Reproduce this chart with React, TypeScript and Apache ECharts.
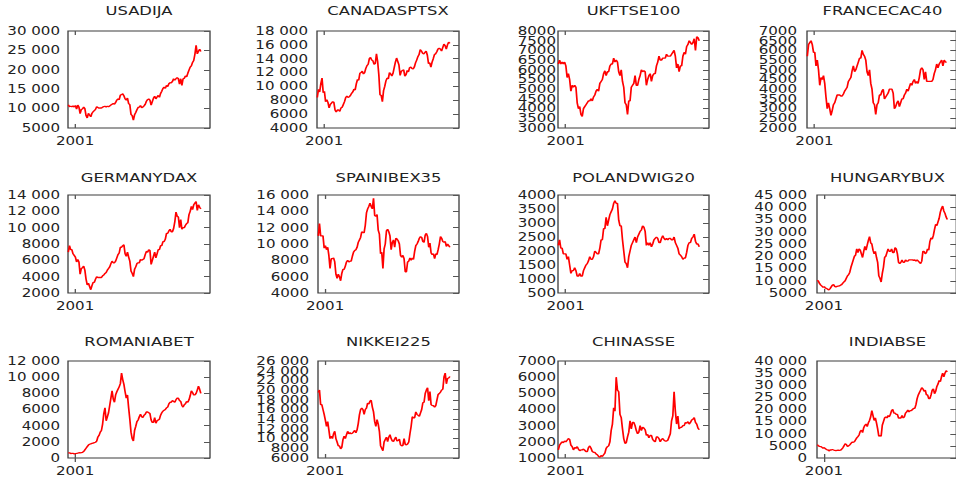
import React, { useEffect, useRef } from "react";
import * as echarts from "echarts";

// Bi-monthly readings (Jan, Mar, May, Jul, Sep, Nov) from 2000 to mid/late 2018
const USADIJA = [
  11000, 10500, 10600, 10500, 10700, 10400,
  10800, 9900, 10900, 10400, 8700, 9800,
  9900, 10400, 10000, 8200, 7600, 8800,
  8300, 7900, 8800, 9200, 9500, 9800,
  10500, 10300, 10100, 10200, 10100, 10400,
  10500, 10600, 10400, 10600, 10500, 10700,
  10900, 11100, 11300, 11100, 11600, 12200,
  12500, 12300, 13500, 13600, 13800, 13300,
  12500, 12200, 12700, 11300, 11000, 8500,
  8200, 7000, 8400, 9000, 9700, 10300,
  10400, 10800, 10200, 10400, 10700, 11100,
  11900, 12300, 12500, 12200, 10900, 11800,
  12700, 13200, 12500, 13000, 13400, 12900,
  13900, 14500, 15200, 15500, 15200, 16000,
  15700, 16400, 16700, 16600, 17000, 17700,
  17300, 17700, 18000, 17700, 16300, 17700,
  16000, 17700, 17800, 18400, 18200, 19100,
  19900, 20700, 21000, 21900, 22400, 24000,
  26300, 24100, 24800, 25300, 24700,
];
const CANADASPTSX = [
  8400, 9600, 9200, 10400, 11200, 9100,
  9300, 7800, 8100, 7700, 6900, 7400,
  7600, 7800, 7700, 6600, 6300, 6600,
  6600, 6400, 6900, 7000, 7400, 7800,
  8400, 8600, 8400, 8500, 8700, 9000,
  9200, 9600, 9500, 10400, 11000, 10900,
  11900, 12000, 12200, 11800, 12000, 12600,
  13000, 13200, 14000, 14200, 13800, 13700,
  13200, 13300, 14700, 13600, 11700, 8800,
  8700, 7800, 9400, 10000, 10800, 11200,
  11100, 12000, 11800, 11500, 11900, 12700,
  13500, 14100, 13600, 13100, 11600, 12200,
  12300, 12400, 11500, 11700, 12300, 12100,
  12700, 12800, 12600, 12500, 12800, 13400,
  13800, 14300, 14600, 15300, 15100, 14800,
  14700, 14900, 15100, 14500, 13300, 13400,
  12800, 13500, 14000, 14600, 14700, 15000,
  15400, 15500, 15400, 15100, 15600, 16100,
  15900, 15400, 16000, 16400, 16200,
];
const UKFTSE100 = [
  6300, 6500, 6300, 6400, 6300, 6400,
  6200, 5600, 5800, 5500, 4900, 5200,
  5100, 5200, 5100, 4300, 4000, 4100,
  3700, 3600, 4000, 4100, 4200, 4300,
  4400, 4400, 4500, 4400, 4600, 4700,
  4900, 5000, 4900, 5300, 5400, 5500,
  5800, 5950, 5700, 5900, 5900, 6200,
  6300, 6300, 6600, 6400, 6500, 6400,
  5900, 5700, 6000, 5400, 5100, 4300,
  4200, 3700, 4400, 4400, 5100, 5200,
  5300, 5700, 5200, 5200, 5500, 5700,
  6000, 5900, 5950, 5900, 5200, 5500,
  5700, 5800, 5400, 5700, 5800, 5800,
  6200, 6400, 6700, 6500, 6500, 6600,
  6600, 6600, 6800, 6700, 6700, 6700,
  6800, 6900, 7000, 6700, 6100, 6300,
  5900, 6200, 6200, 6700, 6900, 6800,
  7200, 7300, 7500, 7400, 7300, 7400,
  7600, 7000, 7700, 7650, 7500,
];
const FRANCECAC40 = [
  5700, 6300, 6400, 6500, 6300, 5900,
  5900, 5200, 5500, 5000, 4200, 4600,
  4500, 4700, 4300, 3600, 3000, 3300,
  3000, 2650, 2900, 3200, 3300, 3500,
  3700, 3700, 3700, 3650, 3650, 3750,
  3900, 4000, 4100, 4400, 4500, 4600,
  4950, 5200, 4900, 5000, 5200, 5400,
  5600, 5600, 6000, 5800, 5700, 5500,
  4900, 4700, 5000, 4300, 4000, 3300,
  3200, 2700, 3200, 3300, 3700, 3700,
  3900, 4000, 3500, 3600, 3700, 3800,
  4000, 4000, 4000, 3800, 3000, 3100,
  3300, 3400, 3100, 3300, 3500, 3500,
  3700, 3800, 4000, 3900, 4100, 4300,
  4200, 4400, 4500, 4300, 4400, 4300,
  4600, 5000, 5100, 5000, 4500, 4900,
  4400, 4400, 4400, 4400, 4400, 4500,
  4800, 5000, 5300, 5100, 5300, 5400,
  5500, 5200, 5500, 5400, 5400,
];
const GERMANYDAX = [
  7000, 7800, 7300, 7300, 6800, 6600,
  6400, 5800, 6100, 5800, 4300, 5000,
  5100, 5300, 4800, 3700, 3000, 3200,
  2800, 2400, 2900, 3300, 3300, 3700,
  4000, 3900, 3900, 3900, 3900, 4100,
  4200, 4400, 4500, 4800, 5000, 5200,
  5600, 5900, 5700, 5700, 5900, 6300,
  6700, 6900, 7600, 7600, 7800, 7900,
  6800, 6500, 7000, 6400, 5900, 4700,
  4400, 4000, 4900, 5200, 5600, 5700,
  5700, 6100, 6000, 6100, 6200, 6700,
  7100, 7000, 7300, 7200, 5500, 6000,
  6500, 7000, 6300, 6800, 7300, 7300,
  7800, 7800, 8300, 8300, 8600, 9300,
  9300, 9600, 9800, 9500, 9500, 9900,
  10700, 11900, 11400, 11300, 10000, 11000,
  9800, 10000, 10000, 10300, 10500, 10600,
  11600, 12000, 12600, 12200, 12800, 13000,
  13200, 12100, 12800, 12500, 12300,
];
const SPAINIBEX35 = [
  11000, 12500, 11000, 11000, 11000, 9500,
  9800, 9300, 9600, 8600, 7000, 8200,
  8200, 8300, 7800, 6300, 5800, 6300,
  6000, 5500, 6400, 6900, 6900, 7300,
  7800, 8000, 7800, 7900, 7900, 8500,
  9000, 9200, 9300, 9600, 10200, 10500,
  10800, 11500, 11400, 11400, 12300, 13800,
  14300, 14600, 15000, 14600, 14300, 15600,
  13500, 13400, 13600, 11700, 11200, 8800,
  9000, 7000, 9400, 10000, 11600, 11800,
  11500, 11000, 9300, 10200, 10500, 9600,
  10700, 10600, 10400, 10000, 8600, 8400,
  8600, 8200, 6600, 6600, 7800, 7900,
  8300, 8000, 8300, 8100, 9100, 9800,
  10000, 10300, 10700, 10900, 10800, 10300,
  10200, 11100, 11300, 10900, 9600, 10100,
  8900, 8700, 8800, 8200, 8800, 8700,
  9300, 10000, 10900, 10700, 10300, 10200,
  10300, 9700, 10000, 9800, 9600,
];
const POLANDWIG20 = [
  2200, 2400, 2100, 2100, 1900, 1900,
  1900, 1700, 1800, 1500, 1200, 1300,
  1300, 1400, 1300, 1100, 1100, 1200,
  1100, 1100, 1300, 1400, 1500, 1550,
  1650, 1800, 1700, 1700, 1800, 2000,
  1950, 1900, 1900, 2100, 2400, 2400,
  2800, 2800, 3200, 2900, 3100, 3300,
  3400, 3500, 3700, 3800, 3700, 3700,
  3100, 2900, 2900, 2400, 2000, 1600,
  1550, 1400, 1800, 2000, 2200, 2300,
  2400, 2500, 2300, 2500, 2600, 2700,
  2750, 2900, 2850, 2700, 2200, 2300,
  2200, 2300, 2150, 2250, 2400, 2450,
  2500, 2450, 2300, 2300, 2450, 2550,
  2450, 2400, 2450, 2400, 2450, 2450,
  2400, 2400, 2500, 2300, 2200, 2100,
  1900, 1850, 1800, 1700, 1750, 1750,
  1950, 2200, 2300, 2300, 2450, 2500,
  2600, 2350, 2250, 2250, 2150,
];
const HUNGARYBUX = [
  10200, 9800, 8800, 8200, 7800, 7300,
  7600, 7000, 6900, 6500, 6300, 6800,
  7500, 8200, 8500, 7700, 7500, 7700,
  7800, 7900, 8200, 8400, 9000, 9500,
  10000, 11000, 12000, 12500, 13500, 15500,
  17000, 18500, 20000, 20500, 23000, 21500,
  23000, 22500, 21000, 19500, 22000, 24000,
  22500, 24500, 26500, 28000, 25500, 25000,
  22500, 21000, 22000, 19500, 17500, 12000,
  11000, 9500, 13000, 15500, 19500, 20000,
  21500, 23000, 22000, 22000, 23000, 21500,
  21500, 23500, 23000, 21000, 17500, 17000,
  17500, 18500, 17500, 17500, 18500, 18000,
  18000, 18500, 18500, 18500, 18500, 18300,
  18500, 18000, 18500, 18000, 17500, 17000,
  18000, 22000, 22000, 21000, 21500, 23000,
  22500, 26000, 27500, 27000, 28500, 31000,
  33000, 32500, 34000, 35500, 38000, 39500,
  40500, 38500, 37500, 36000, 35000,
];
const ROMANIABET = [
  600, 650, 550, 580, 560, 520,
  550, 560, 600, 650, 620, 650,
  700, 800, 1000, 1200, 1400, 1600,
  1700, 1750, 1800, 1850, 1900, 1950,
  2100, 2600, 2800, 3200, 3400, 4200,
  5500, 6200, 4600, 5100, 5600, 6500,
  7400, 8300, 7300, 6900, 7800, 8200,
  8500, 8800, 9200, 10500, 9700, 9100,
  8200, 7400, 7800, 6200, 4800, 3200,
  2400, 2100, 3400, 3900, 4500, 4700,
  5100, 5400, 5100, 5000, 5300, 5400,
  5700, 5700, 5600, 5500, 4700, 4400,
  4400, 5000, 4300, 4600, 4700, 4800,
  5300, 5600, 5800, 5900, 6000, 6200,
  6300, 6700, 6900, 6900, 7100, 7000,
  6900, 7200, 7400, 7400, 7100, 7000,
  6500, 6300, 6600, 6700, 7000, 6900,
  7200, 7700, 8300, 8100, 7800, 7800,
  8000, 8400, 8900, 8500, 8000,
];
const NIKKEI225 = [
  19500, 20000, 17000, 17000, 16000, 15000,
  13800, 12500, 13500, 11800, 10000, 10500,
  10000, 11000, 11500, 10000, 9300, 8500,
  8500, 7900, 8200, 9800, 10500, 10000,
  10800, 11500, 11000, 11200, 11000, 11100,
  11400, 11700, 11200, 11800, 13100, 14900,
  16000, 16300, 16000, 15000, 16000, 16300,
  17300, 17100, 17700, 17900, 16500, 15500,
  13500, 12500, 13900, 13000, 11500, 8500,
  8000, 7500, 9300, 9800, 10300, 9400,
  10300, 10800, 10000, 9500, 9400, 9900,
  10300, 9500, 9600, 9900, 8700, 8500,
  8600, 10000, 8800, 8700, 8900, 9300,
  11000, 12500, 14500, 14300, 14300, 15500,
  15000, 14800, 14600, 15300, 16000, 17400,
  17500, 19300, 20000, 20500, 17800, 19700,
  17000, 16800, 16800, 16500, 16800, 18000,
  19100, 19300, 19600, 20000, 20200, 22700,
  23500, 21300, 22400, 22500, 22800,
];
const CHINASSE = [
  1500, 1800, 1900, 2000, 1950, 2050,
  2000, 2100, 2200, 2150, 1800, 1700,
  1500, 1650, 1600, 1700, 1550, 1450,
  1500, 1500, 1550, 1480, 1400, 1400,
  1650, 1750, 1600, 1400, 1350, 1350,
  1250, 1200, 1100, 1050, 1150, 1100,
  1200, 1300, 1600, 1700, 1750, 2000,
  2700, 3100, 4100, 3900, 6000, 5200,
  5100, 3700, 3500, 2800, 2200, 1900,
  1950, 2300, 2600, 3300, 2800, 3200,
  3200, 3000, 2700, 2500, 2600, 3000,
  2700, 2900, 2850, 2750, 2400, 2450,
  2250, 2400, 2400, 2150, 2050, 2000,
  2300, 2300, 2200, 2000, 2150, 2200,
  2100, 2050, 2050, 2100, 2300, 2500,
  3300, 3600, 5100, 3900, 3100, 3600,
  2800, 2900, 2900, 3000, 3000, 3200,
  3150, 3250, 3100, 3200, 3350, 3400,
  3500, 3200, 3100, 2850, 2750,
];
const INDIABSE = [
  5500, 5000, 4800, 4700, 4400, 4000,
  4300, 3800, 3500, 3400, 2900, 3300,
  3300, 3500, 3300, 3100, 3000, 3100,
  3200, 3100, 3200, 3600, 4200, 5000,
  5900, 5600, 4800, 5000, 5400, 6000,
  6500, 6500, 6700, 7500, 8300, 8800,
  9500, 11000, 11500, 10500, 12500, 13500,
  14000, 13000, 14500, 15500, 17000, 19500,
  17500, 15500, 16500, 14500, 12000, 9000,
  9200, 9000, 13500, 15000, 16500, 17000,
  16500, 17500, 17000, 18000, 19500, 20000,
  18500, 18500, 18000, 18000, 16500, 16500,
  16500, 17500, 16500, 17000, 18500, 19000,
  19800, 19000, 19500, 19500, 20000, 20500,
  20500, 22000, 24500, 26000, 27000, 28000,
  29000, 28500, 27500, 28000, 26000, 26000,
  24500, 24500, 26000, 28000, 28500, 26500,
  27500, 29500, 30500, 32000, 31500, 33500,
  35000, 33500, 35000, 36000, 35500,
];

const NAMES = [
  "USADIJA", "CANADASPTSX", "UKFTSE100", "FRANCECAC40",
  "GERMANYDAX", "SPAINIBEX35", "POLANDWIG20", "HUNGARYBUX",
  "ROMANIABET", "NIKKEI225", "CHINASSE", "INDIABSE",
];
const VALUES = [
  USADIJA, CANADASPTSX, UKFTSE100, FRANCECAC40,
  GERMANYDAX, SPAINIBEX35, POLANDWIG20, HUNGARYBUX,
  ROMANIABET, NIKKEI225, CHINASSE, INDIABSE,
];
// y-axis ranges [min, max, step]
const Y_MIN = [5000, 4000, 3000, 2000, 2000, 4000, 500, 5000, 0, 6000, 1000, 0];
const Y_MAX = [30000, 18000, 8000, 7000, 14000, 16000, 4000, 45000, 12000, 26000, 7000, 40000];
const Y_STEP = [5000, 2000, 500, 500, 2000, 2000, 500, 5000, 2000, 2000, 1000, 5000];
const X_TICKS = [2001];

// time of each reading (decimal years), bi-monthly from Jan 2000
const TIME = USADIJA.map((_, k) => 2000 + k / 6 + 1 / 24);

// layout (reference pixels)
const S = 1.31; // horizontal stretch of the picture
const FONT = "DejaVu Sans";
const PLOT_LEFT = [68, 317, 558, 807, 68, 318, 558, 817, 68, 318, 558, 817];
const COL_RIGHT = [210, 459, 709, 958];
const COL_LABEL_GAP = [8, 9, 2, 10];
const ROW_TOP = [31, 195, 361];
const ROW_BOTTOM = [128, 293, 458];
const ROW_TITLE_Y = [10.5, 177, 341];

const fmt = (v: number) => {
  if (v >= 10000) {
    const th = Math.floor(v / 1000);
    const rest = String(v % 1000).padStart(3, "0");
    return th + " " + rest;
  }
  return String(v);
};

export default function App() {
  const ref = useRef<HTMLDivElement>(null);
  useEffect(() => {
    if (!ref.current) return;
    const chart = echarts.init(ref.current, undefined, { renderer: "svg" });
    const grids: any[] = [];
    const xAxes: any[] = [];
    const yAxes: any[] = [];
    const series: any[] = [];
    NAMES.forEach((name, i) => {
      const row = Math.floor(i / 4);
      const col = i % 4;
      const L = PLOT_LEFT[i];
      const R = COL_RIGHT[col];
      const T = ROW_TOP[row];
      const B = ROW_BOTTOM[row];
      grids.push({
        left: L / S,
        width: (R - L) / S,
        top: T,
        height: B - T,
        show: true,
        borderColor: "#3c3c3c",
        borderWidth: 1,
        backgroundColor: "transparent",
        containLabel: false,
      });
      const tickStyle = { color: "#555", width: 1 };
      xAxes.push({
        type: "value",
        gridIndex: i,
        min: 2000,
        max: 2020,
        position: "bottom",
        axisLine: { show: false },
        splitLine: { show: false },
        axisTick: { show: true, inside: true, length: 4, customValues: X_TICKS, lineStyle: tickStyle },
        axisLabel: {
          customValues: X_TICKS,
          formatter: (v: number) => String(v),
          margin: 7,
          fontSize: 11.5,
          fontFamily: FONT,
          color: "#222",
        },
      });
      xAxes.push({
        type: "value",
        gridIndex: i,
        min: 2000,
        max: 2020,
        position: "top",
        axisLine: { show: false },
        splitLine: { show: false },
        axisTick: { show: true, inside: true, length: 4, customValues: X_TICKS, lineStyle: tickStyle },
        axisLabel: { show: false },
      });
      yAxes.push({
        type: "value",
        gridIndex: i,
        min: Y_MIN[i],
        max: Y_MAX[i],
        interval: Y_STEP[i],
        position: "left",
        axisLine: { show: false },
        splitLine: { show: false },
        axisTick: { show: false },
        axisLabel: { show: false },
      });
      yAxes.push({
        type: "value",
        gridIndex: i,
        min: Y_MIN[i],
        max: Y_MAX[i],
        interval: Y_STEP[i],
        position: "right",
        axisLine: { show: false },
        splitLine: { show: false },
        axisTick: { show: true, inside: true, length: 6 / S, lineStyle: tickStyle },
        axisLabel: { show: false },
      });
      series.push({
        type: "line",
        xAxisIndex: i * 2,
        yAxisIndex: i * 2,
        data: VALUES[i].map((v, k) => [TIME[k], v]),
        showSymbol: false,
        symbol: "none",
        silent: true,
        lineStyle: { color: "#ff0000", width: 1.3 },
      });
    });
    chart.setOption({
      animation: false,
      backgroundColor: "#fff",
      grid: grids,
      xAxis: xAxes,
      yAxis: yAxes,
      series,
    });

    // titles and y tick labels, placed through the axes' own scales
    const graphics: any[] = [];
    NAMES.forEach((name, i) => {
      const row = Math.floor(i / 4);
      const col = i % 4;
      const L = PLOT_LEFT[i];
      const R = COL_RIGHT[col];
      graphics.push({
        type: "text",
        x: (L + R) / 2 / S,
        y: ROW_TITLE_Y[row],
        silent: true,
        style: {
          text: name,
          align: "center",
          verticalAlign: "middle",
          fontSize: 12.5,
          fontFamily: FONT,
          fill: "#222",
        },
      });
      const n = Math.round((Y_MAX[i] - Y_MIN[i]) / Y_STEP[i]);
      const spacing = (ROW_BOTTOM[row] - ROW_TOP[row]) / n;
      for (let k = 0; k <= n; k++) {
        const v = Y_MIN[i] + k * Y_STEP[i];
        const py = chart.convertToPixel({ yAxisIndex: i * 2 } as any, v) as any as number;
        graphics.push({
          type: "text",
          x: (L - COL_LABEL_GAP[col]) / S,
          y: py,
          silent: true,
          style: {
            text: fmt(v),
            align: "right",
            verticalAlign: "middle",
            fontSize: 11.5,
            lineHeight: Math.min(11.5, spacing - 0.6),
            fontFamily: FONT,
            fill: "#222",
          },
        });
      }
    });
    chart.setOption({ graphic: graphics });
    return () => chart.dispose();
  }, []);
  return (
    <div
      style={{
        position: "fixed",
        left: 0,
        top: 0,
        width: 956,
        height: 482,
        overflow: "hidden",
        background: "#fff",
      }}
    >
      <div
        ref={ref}
        style={{
          width: 956 / S,
          height: 482,
          transform: `scaleX(${S})`,
          transformOrigin: "0 0",
        }}
      />
    </div>
  );
}
